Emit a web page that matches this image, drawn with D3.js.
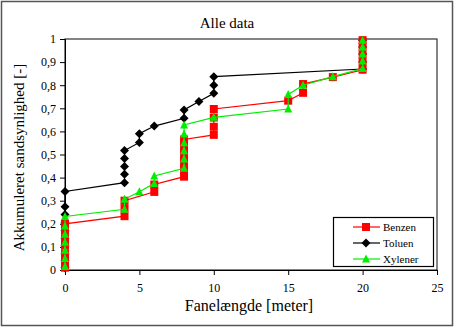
<!DOCTYPE html>
<html><head><meta charset="utf-8">
<script src="https://cdn.jsdelivr.net/npm/d3@7"></script>
<style>body{margin:0;background:#fff}svg{display:block}svg text{font-family:"Liberation Serif",serif !important}</style>
</head><body><svg id="c" width="454" height="327"></svg>
<script>
const title = "Alle data";
const xLabel = "Fanelængde [meter]";
const yLabel = "Akkumuleret sandsynlighed [-]";
const xTicks = [0,5,10,15,20,25];
const yTicks = [0,0.1,0.2,0.3,0.4,0.5,0.6,0.7,0.8,0.9,1];
const seriesNames = ["Toluen","Benzen","Xylener"];
const legendOrder = ["Benzen","Toluen","Xylener"];
const colors = {Benzen:"#ff0000", Toluen:"#000000", Xylener:"#00ee00"};

const benzenX = [0,0,0,0,0,0,0,4,4,4,6,6,8,8,8,8,8,8,10,10,10,10,15,16,16,18,20,20,20,20,20];
const benzenY = [0.01,0.04,0.07,0.105,0.137,0.17,0.2,0.233,0.267,0.3,0.338,0.37,0.404,0.437,0.47,0.5,0.533,0.565,0.585,0.62,0.66,0.697,0.733,0.767,0.805,0.835,0.867,0.9,0.933,0.967,0.995];

const toluenX = [0,0,0,0,0,0,0,0,0,0,4,4,4,4,4,5,5,6,8,8,9,10,10,10,20,20,20,20,20];
const toluenY = [0.01,0.04,0.07,0.105,0.137,0.17,0.205,0.24,0.274,0.34,0.378,0.414,0.448,0.483,0.517,0.552,0.59,0.623,0.657,0.693,0.729,0.765,0.8,0.837,0.87,0.9,0.935,0.965,0.995];

const xylenerX = [0,0,0,0,0,0,0,4,4,5,6,6,8,8,8,8,8,8,10,15,15,16,18,20,20,20,20,20];
const xylenerY = [0.015,0.05,0.085,0.12,0.155,0.19,0.232,0.263,0.306,0.339,0.375,0.407,0.44,0.48,0.516,0.551,0.589,0.628,0.661,0.697,0.76,0.8,0.837,0.872,0.905,0.935,0.965,0.995];

const data = {
  Benzen: benzenX.map((x,i)=>({x, y:benzenY[i]})),
  Toluen: toluenX.map((x,i)=>({x, y:toluenY[i]})),
  Xylener: xylenerX.map((x,i)=>({x, y:xylenerY[i]}))
};

const svg = d3.select("#c");
const W = 454, H = 327;
const L = 65, R = 437, T = 39, B = 270;
const x = d3.scaleLinear().domain([0,25]).range([L,R]);
const y = d3.scaleLinear().domain([0,1]).range([B,T]);

svg.append("rect").attr("x",1.5).attr("y",1.5).attr("width",W-3).attr("height",H-3)
  .attr("fill","#fff").attr("stroke","#555").attr("stroke-width",1.5);

svg.append("text").attr("x",227).attr("y",28).attr("text-anchor","middle")
  .attr("font-size",15).text(title);

// plot frame
svg.append("rect").attr("x",L).attr("y",T).attr("width",R-L).attr("height",B-T)
  .attr("fill","none").attr("stroke","#333").attr("stroke-width",1.2);

const fmt = d => d===0 ? "0" : d===1 ? "1" : d3.format(".1f")(d).replace(".",",");
const ya = svg.append("g").attr("transform",`translate(${L},0)`)
  .call(d3.axisLeft(y).tickValues(yTicks).tickFormat(fmt).tickSize(5).tickPadding(4));
ya.select(".domain").attr("stroke","#000");
ya.selectAll("text").attr("font-size",12);
const xa = svg.append("g").attr("transform",`translate(0,${B})`)
  .call(d3.axisBottom(x).tickValues(xTicks).tickFormat(d3.format("d")).tickSize(5).tickPadding(8));
xa.select(".domain").attr("stroke","#000");
xa.selectAll("text").attr("font-size",12);

svg.append("text").attr("x",249).attr("y",311).attr("text-anchor","middle")
  .attr("font-size",16).text(xLabel);
svg.append("text").attr("transform",`translate(24,${(T+B)/2+3}) rotate(-90)`)
  .attr("text-anchor","middle").attr("font-size",15).text(yLabel);

function marker(name, s){
  if(name==="Benzen") return `M${-s},${-s}h${2*s}v${2*s}h${-2*s}Z`;
  if(name==="Toluen") return `M0,${-s-1}L${s+1},0L0,${s+1}L${-s-1},0Z`;
  return `M0,${-s-1}L${s+0.5},${s}L${-s-0.5},${s}Z`;
}

const line = d3.line().x(d=>x(d.x)).y(d=>y(d.y));
seriesNames.forEach(name=>{
  const g = svg.append("g");
  g.append("path").datum(data[name]).attr("d",line).attr("fill","none")
    .attr("stroke",colors[name]).attr("stroke-width",1.2);
  g.selectAll("path.m").data(data[name]).join("path").attr("class","m")
    .attr("transform",d=>`translate(${x(d.x)},${y(d.y)})`)
    .attr("d",marker(name, name==="Benzen"?4:3.5)).attr("fill",colors[name]);
});

// legend
const lg = svg.append("g");
lg.append("rect").attr("x",333.5).attr("y",217.5).attr("width",100).attr("height",49)
  .attr("fill","#fff").attr("stroke","#000").attr("stroke-width",1.2);
legendOrder.forEach((name,i)=>{
  const yy = 227 + i*16;
  lg.append("line").attr("x1",353).attr("x2",380).attr("y1",yy).attr("y2",yy)
    .attr("stroke",colors[name]).attr("stroke-width",1.2);
  lg.append("path").attr("transform",`translate(366,${yy})`)
    .attr("d",marker(name, name==="Benzen"?4:3.5)).attr("fill",colors[name]);
  lg.append("text").attr("x",383).attr("y",yy+4).attr("font-size",11).text(name);
});
</script></body></html>
